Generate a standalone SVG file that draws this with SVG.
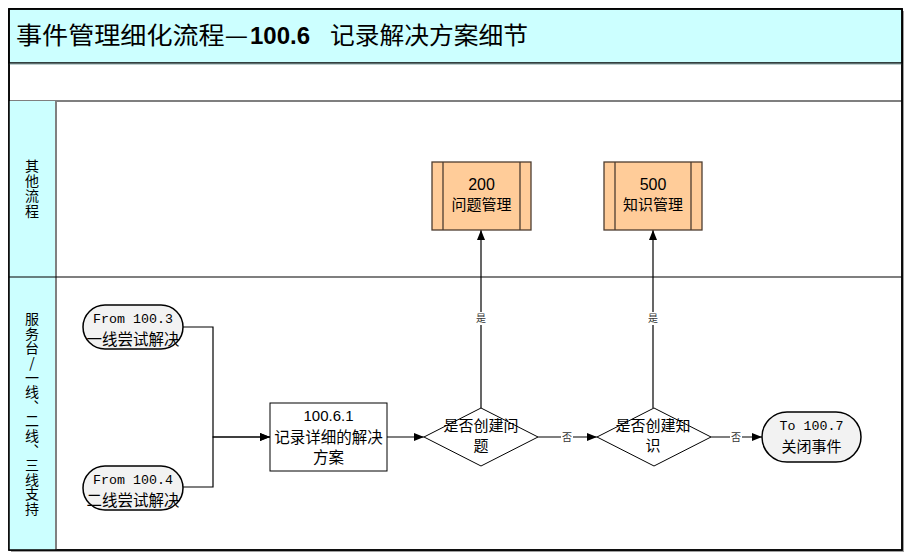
<svg xmlns="http://www.w3.org/2000/svg" width="909" height="555" viewBox="0 0 909 555">
<style>
.cjk{font-family:"Noto Sans CJK SC","Liberation Sans",sans-serif;fill:#000}
.lat{font-family:"Liberation Sans",Arial,sans-serif;fill:#000}
.mono{font-family:"Liberation Mono","Courier New",monospace;fill:#000}
.term{fill:#F2F2F2;stroke:#000;stroke-width:1.5}
.proc{fill:#FFFFFF;stroke:#000;stroke-width:1}
.sub{fill:#FFCC99;stroke:#4D3D30;stroke-width:1.3}
.dec{fill:#FFFFFF;stroke:#000;stroke-width:1}
.conn{fill:none;stroke:#000;stroke-width:1.2}
.lbl{font-family:"Noto Sans CJK SC",sans-serif;font-size:10px;fill:#333}
.lblbg{fill:#FFFFFF}
.vt{font-family:"Noto Sans CJK SC","Liberation Sans",sans-serif;fill:#000;font-size:14px;writing-mode:vertical-rl;text-orientation:upright}
</style>
<defs>
<marker id="arr" viewBox="0 0 10 8" refX="10" refY="4" markerWidth="10" markerHeight="8" markerUnits="userSpaceOnUse" orient="auto">
<path d="M0,0 L10,4 L0,8 Z" fill="#000"/>
</marker>
</defs>
<g id="frame">
<rect x="11" y="11" width="893" height="541" fill="#A0A0A0"/>
<rect x="9" y="9" width="893" height="541" fill="#FFFFFF" stroke="#000" stroke-width="1.5"/>
<rect x="9" y="9" width="893" height="54" fill="#CCFFFF" stroke="#000" stroke-width="1.5"/>
<line x1="9" y1="64" x2="902" y2="64" stroke="#7F9F9F" stroke-width="1"/>
<line x1="9" y1="101" x2="902" y2="101" stroke="#000" stroke-width="1.2"/>
<rect x="9" y="101" width="47" height="449" fill="#CCFFFF"/>
<line x1="56" y1="101" x2="56" y2="550" stroke="#808080" stroke-width="2"/>
<line x1="9" y1="277" x2="902" y2="277" stroke="#000" stroke-width="1.2"/>
<rect x="9" y="9" width="893" height="541" fill="none" stroke="#000" stroke-width="1.5"/>
<text class="cjk" x="16" y="44" font-size="24" textLength="232" lengthAdjust="spacingAndGlyphs">事件管理细化流程—</text>
<text class="lat" x="250" y="44" font-size="24" font-weight="bold">100.6</text>
<text class="cjk" x="330" y="44" font-size="24" textLength="198" lengthAdjust="spacingAndGlyphs">记录解决方案细节</text>
</g>
<g id="lane-other">
<text class="vt" x="32" y="189" text-anchor="middle" letter-spacing="1">其他流程</text>
</g>
<g id="lane-service">
<text class="vt" x="32" y="414" text-anchor="middle" letter-spacing="0.6">服务台/一线、二线、三线支持</text>
</g>
<g id="connectors">
<path class="conn" d="M183,327 H213 V437 H270" marker-end="url(#arr)"/>
<path class="conn" d="M183,487 H213 V437 H270" marker-end="url(#arr)"/>
<path class="conn" d="M387,437 H424" marker-end="url(#arr)"/>
<path class="conn" d="M481,408 V230" marker-end="url(#arr)"/>
<path class="conn" d="M538,437 H597" marker-end="url(#arr)"/>
<path class="conn" d="M653,408 V230" marker-end="url(#arr)"/>
<path class="conn" d="M711,437 H762" marker-end="url(#arr)"/>
<rect class="lblbg" x="475" y="312" width="12" height="13"/>
<text class="lbl" x="481" y="322" text-anchor="middle">是</text>
<rect class="lblbg" x="647" y="312" width="12" height="13"/>
<text class="lbl" x="653" y="322" text-anchor="middle">是</text>
<rect class="lblbg" x="561" y="431" width="12" height="12"/>
<text class="lbl" x="567" y="441" text-anchor="middle">否</text>
<rect class="lblbg" x="730" y="431" width="12" height="12"/>
<text class="lbl" x="736" y="441" text-anchor="middle">否</text>
</g>
<g id="from-100-3">
<rect class="term" x="83" y="305" width="100" height="44" rx="22" ry="22"/>
<text class="mono" x="133" y="323" font-size="13.3" text-anchor="middle">From 100.3</text>
<text class="cjk" x="133" y="345" font-size="15.5" text-anchor="middle">一线尝试解决</text>
</g>
<g id="from-100-4">
<rect class="term" x="83" y="466" width="100" height="44" rx="22" ry="22"/>
<text class="mono" x="133" y="484" font-size="13.3" text-anchor="middle">From 100.4</text>
<text class="cjk" x="133" y="506" font-size="15.5" text-anchor="middle">二线尝试解决</text>
</g>
<g id="step-100-6-1">
<rect class="proc" x="270" y="403" width="117" height="68"/>
<text class="lat" x="328.5" y="421" font-size="15" text-anchor="middle">100.6.1</text>
<text class="cjk" x="328.5" y="443" font-size="15.5" text-anchor="middle">记录详细的解决</text>
<text class="cjk" x="328.5" y="463" font-size="15.5" text-anchor="middle">方案</text>
</g>
<g id="dec-problem">
<path class="dec" d="M424,437 L481,408 L538,437 L481,466 Z"/>
<text class="cjk" x="481" y="431" font-size="15" text-anchor="middle">是否创建问</text>
<text class="cjk" x="481" y="451" font-size="15" text-anchor="middle">题</text>
</g>
<g id="dec-knowledge">
<path class="dec" d="M597,437 L654,408 L711,437 L654,466 Z"/>
<text class="cjk" x="653" y="431" font-size="15" text-anchor="middle">是否创建知</text>
<text class="cjk" x="653" y="451" font-size="15" text-anchor="middle">识</text>
</g>
<g id="to-100-7">
<rect class="term" x="762" y="412" width="99" height="50" rx="25" ry="25"/>
<text class="mono" x="811.5" y="430" font-size="13.3" text-anchor="middle">To 100.7</text>
<text class="cjk" x="811.5" y="452" font-size="15" text-anchor="middle">关闭事件</text>
</g>
<g id="proc-200">
<rect class="sub" x="432" y="162" width="99" height="68"/>
<line x1="443" y1="162" x2="443" y2="230" stroke="#4D3D30" stroke-width="1.3"/>
<line x1="520" y1="162" x2="520" y2="230" stroke="#4D3D30" stroke-width="1.3"/>
<text class="lat" x="481.5" y="190" font-size="16" text-anchor="middle">200</text>
<text class="cjk" x="481.5" y="210" font-size="15" text-anchor="middle">问题管理</text>
</g>
<g id="proc-500">
<rect class="sub" x="604" y="162" width="98" height="68"/>
<line x1="615" y1="162" x2="615" y2="230" stroke="#4D3D30" stroke-width="1.3"/>
<line x1="691" y1="162" x2="691" y2="230" stroke="#4D3D30" stroke-width="1.3"/>
<text class="lat" x="653" y="190" font-size="16" text-anchor="middle">500</text>
<text class="cjk" x="653" y="210" font-size="15" text-anchor="middle">知识管理</text>
</g>
</svg>
